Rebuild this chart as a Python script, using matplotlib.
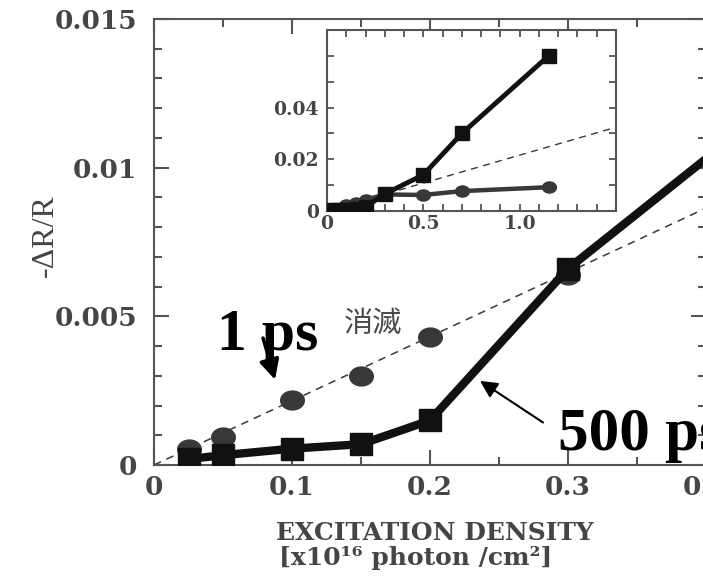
import matplotlib
matplotlib.use('Agg')
import matplotlib.pyplot as plt
from matplotlib.path import Path
from matplotlib.transforms import Affine2D
from matplotlib.ticker import MultipleLocator, FixedLocator, FixedFormatter

# excitation density [x1e16 photon/cm2] and -dR/R at two delays
density = [0.025, 0.05, 0.1, 0.15, 0.2, 0.3, 0.5, 0.7, 1.15]
dr_1ps = [0.00053, 0.00095, 0.0022, 0.0030, 0.0043, 0.0064, 0.0062, 0.0077, 0.0092]
dr_500ps = [0.0002, 0.00033, 0.00055, 0.0007, 0.0015, 0.0066, 0.0140, 0.0300, 0.0600]

# linear guide through the low-density 1 ps points
fit_x = [0, 1.5]
fit_y = [0, 0.0324]

main_xticks = [0, 0.1, 0.2, 0.3, 0.4]
main_xlabels = ['0', '0.1', '0.2', '0.3', '0.4']
main_yticks = [0, 0.005, 0.01, 0.015]
main_ylabels = ['0', '0.005', '0.01', '0.015']
inset_xticks = [0, 0.5, 1.0]
inset_xlabels = ['0', '0.5', '1.0']
inset_yticks = [0, 0.02, 0.04]
inset_ylabels = ['0', '0.02', '0.04']

W, H = 703, 578
gray = '#454545'
spine_c = '#555555'
dot_c = '#383838'
tick_font = dict(family='DejaVu Serif', weight='bold', color=gray)

oval = Path.unit_circle().transformed(Affine2D().scale(1.25, 1.0))

fig = plt.figure(figsize=(W / 100, H / 100), dpi=100)

# main axes: right spine (x=0.4) sits just past the canvas edge
ax = fig.add_axes([154 / W, 113 / H, 0.4 * 1380 / W, 446 / H])
ax.plot(fit_x, fit_y, color=dot_c, lw=1.1, ls=(0, (5, 4)), zorder=2)
ax.plot(density, dr_1ps, ls='none', marker=oval, ms=17, color=dot_c, zorder=3)
ax.plot(density, dr_500ps, color='#111111', lw=6, marker='s', ms=16, zorder=4)
ax.set_xlim(0, 0.4)
ax.set_ylim(0, 0.015)
ax.xaxis.set_major_locator(FixedLocator(main_xticks))
ax.xaxis.set_major_formatter(FixedFormatter(main_xlabels))
ax.yaxis.set_major_locator(FixedLocator(main_yticks))
ax.yaxis.set_major_formatter(FixedFormatter(main_ylabels))
ax.xaxis.set_minor_locator(MultipleLocator(0.05))
ax.yaxis.set_minor_locator(MultipleLocator(0.001))
ax.tick_params(which='both', direction='in', top=True, right=True,
               color=spine_c, width=1.5)
ax.tick_params(which='major', length=11)
ax.tick_params(which='minor', length=6)
ax.tick_params(axis='y', pad=12)
ax.tick_params(axis='x', pad=7)
for lab in ax.get_xticklabels() + ax.get_yticklabels():
    lab.set(fontsize=19, **tick_font)
for s in ax.spines.values():
    s.set_color(spine_c)
    s.set_linewidth(1.5)

fig.text(45 / W, 1 - 236 / H, '-ΔR/R', rotation=90, ha='center', va='center',
         family='Liberation Serif', fontsize=23, color=gray)
fig.text(435 / W, 1 - 540 / H, 'EXCITATION DENSITY', ha='center', va='baseline',
         family='DejaVu Serif', weight='bold', fontsize=18, color=gray)
fig.text(416 / W, 1 - 565 / H, '[x10¹⁶ photon /cm²]', ha='center', va='baseline',
         family='DejaVu Serif', weight='bold', fontsize=18, color=gray)

ax.text(0.0457, 0.00387, '1 ps', family='Liberation Serif', weight='bold',
        fontsize=43, color='black', ha='left', va='baseline', zorder=6)
ax.annotate('', xy=(0.0877, 0.00287), xytext=(0.079, 0.00427),
            arrowprops=dict(arrowstyle='-|>', lw=2.5, color='black',
                            mutation_scale=30, shrinkA=0, shrinkB=0), zorder=6)
ax.text(0.2928, 0.0005, '500 ps', family='Liberation Serif', weight='bold',
        fontsize=44, color='black', ha='left', va='baseline', zorder=6,
        clip_on=False)
ax.annotate('', xy=(0.2362, 0.00283), xytext=(0.2819, 0.00143),
            arrowprops=dict(arrowstyle='-|>', lw=1.5, color='black',
                            mutation_scale=26, shrinkA=0, shrinkB=0), zorder=6)
ax.text(0.159, 0.00475, '消滅', family=['Noto Sans CJK JP', 'DejaVu Sans'],
        fontsize=21, color='#4a4a4a', ha='center', va='center', zorder=5)

# inset: full density range
ins = fig.add_axes([327 / W, 367 / H, 289 / W, 181 / H])
ins.plot(fit_x, fit_y, color=dot_c, lw=1.0, ls=(0, (5, 4)), zorder=2)
ins.plot(density, dr_1ps, color=dot_c, lw=3.2, marker=oval, ms=10, zorder=3)
ins.plot(density, dr_500ps, color='#111111', lw=3.5, marker='s', ms=10, zorder=4)
ins.set_xlim(0, 1.5)
ins.set_ylim(0, 0.07)
ins.xaxis.set_major_locator(FixedLocator(inset_xticks))
ins.xaxis.set_major_formatter(FixedFormatter(inset_xlabels))
ins.yaxis.set_major_locator(FixedLocator(inset_yticks))
ins.yaxis.set_major_formatter(FixedFormatter(inset_ylabels))
ins.xaxis.set_minor_locator(MultipleLocator(0.1))
ins.yaxis.set_minor_locator(MultipleLocator(0.01))
ins.tick_params(which='both', direction='in', top=True, right=True,
                color=spine_c, width=1.3, length=5)
ins.tick_params(axis='y', pad=6)
ins.tick_params(axis='x', pad=3)
for lab in ins.get_xticklabels() + ins.get_yticklabels():
    lab.set(fontsize=13.5, **tick_font)
for s in ins.spines.values():
    s.set_color(spine_c)
    s.set_linewidth(1.5)

fig.savefig('out.png', dpi=100)
